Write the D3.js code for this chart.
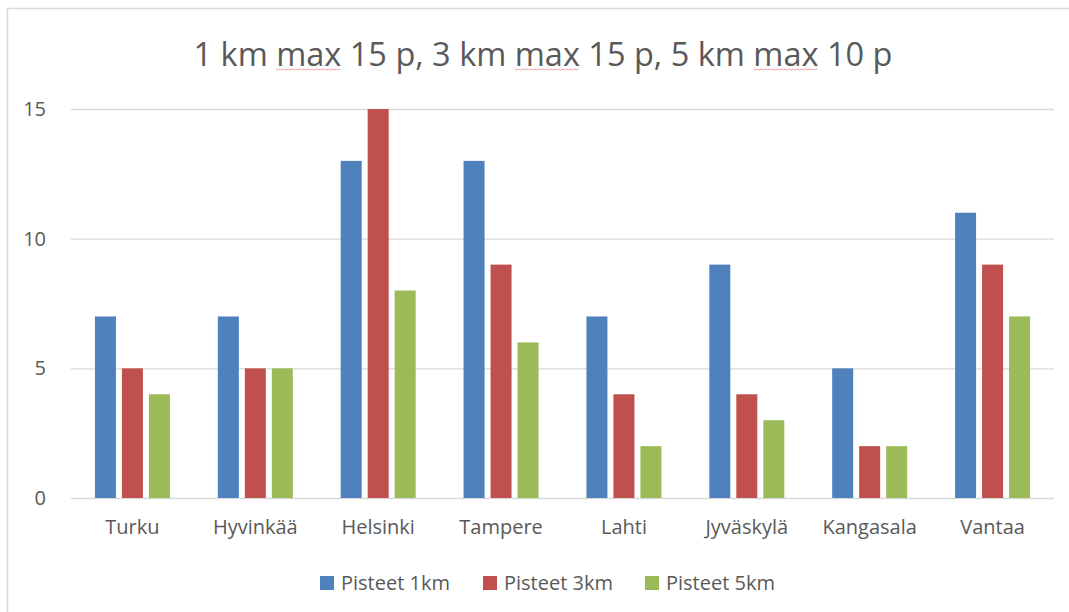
<!DOCTYPE html>
<html lang="fi">
<head>
  <meta charset="UTF-8">
  <title>Pisteet</title>
  <style>
    body { margin: 0; background: #fff; }
    svg { display: block; }
    text { font-family: "Open Sans", "Noto Sans", sans-serif; fill: #595959; }
  </style>
</head>
<body>
  <script src="https://d3js.org/d3.v7.min.js"></script>
  <script>
    'use strict';

    const cities = ['Turku', 'Hyvinkää', 'Helsinki', 'Tampere', 'Lahti', 'Jyväskylä', 'Kangasala', 'Vantaa'];
    const series = ['Pisteet 1km', 'Pisteet 3km', 'Pisteet 5km'];
    const p1km = [7, 7, 13, 13, 7, 9, 5, 11];
    const p3km = [5, 5, 15, 9, 4, 4, 2, 9];
    const p5km = [4, 5, 8, 6, 2, 3, 2, 7];
    const yTicks = [0, 5, 10, 15];
    const titleText = '1 km max 15 p, 3 km max 15 p, 5 km max 10 p';

    const colors = ['#4F81BD', '#C0504D', '#9BBB59'];
    const values = [p1km, p3km, p5km];

    const width = 1069;
    const height = 612;
    const plotLeft = 71, plotRight = 1054, plotTop = 109, plotBottom = 498;
    const labelSize = 20;

    const svg = d3.select('body').append('svg')
      .attr('width', width)
      .attr('height', height);

    // chart frame
    svg.append('path')
      .attr('d', 'M7.5,612 V8.5 H1069')
      .attr('fill', 'none')
      .attr('stroke', '#d9d9d9')
      .attr('stroke-width', 1.5);

    const x = d3.scaleBand().domain(cities).range([plotLeft, plotRight]);
    const y = d3.scaleLinear().domain([0, 15]).range([plotBottom, plotTop]);
    const groupW = 75;
    const xs = d3.scaleBand().domain(series).range([0, groupW]).paddingInner(0.222);

    // gridlines
    svg.append('g')
      .selectAll('line')
      .data(yTicks)
      .join('line')
      .attr('x1', plotLeft).attr('x2', plotRight)
      .attr('y1', d => y(d) + 0.5).attr('y2', d => y(d) + 0.5)
      .attr('stroke', '#d9d9d9')
      .attr('stroke-width', 1.3);

    // y axis labels
    const yAxis = d3.axisLeft(y).tickValues(yTicks).tickSize(0).tickPadding(0);
    const yG = svg.append('g')
      .attr('transform', 'translate(' + 46 + ',0)')
      .call(yAxis);
    yG.select('.domain').remove();
    yG.selectAll('text')
      .attr('font-size', labelSize)
      .attr('font-family', '"Open Sans", sans-serif')
      .attr('fill', '#595959');

    // bars
    const groups = svg.append('g')
      .selectAll('g')
      .data(cities)
      .join('g')
      .attr('transform', d => 'translate(' + (x(d) + x.bandwidth() / 2 - groupW / 2) + ',0)');

    groups.selectAll('rect')
      .data((c, i) => series.map((s, k) => ({ s: s, k: k, v: values[k][i] })))
      .join('rect')
      .attr('x', d => xs(d.s))
      .attr('width', xs.bandwidth())
      .attr('y', d => y(d.v))
      .attr('height', d => y(0) - y(d.v))
      .attr('fill', d => colors[d.k]);

    // x axis labels
    const xAxis = d3.axisBottom(x).tickSize(0).tickPadding(0);
    const xG = svg.append('g')
      .attr('transform', 'translate(0,' + 520 + ')')
      .call(xAxis);
    xG.select('.domain').remove();
    xG.selectAll('text')
      .attr('font-size', labelSize)
      .attr('font-family', '"Open Sans", sans-serif')
      .attr('fill', '#595959');

    // title
    const title = svg.append('text')
      .attr('x', 543)
      .attr('y', 66)
      .attr('text-anchor', 'middle')
      .attr('font-size', 32.5)
      .text(titleText);

    // spell-check squiggles under "max"
    const node = title.node();
    let idx = titleText.indexOf('max');
    while (idx >= 0) {
      const sx = node.getStartPositionOfChar(idx).x;
      const ex = node.getEndPositionOfChar(idx + 2).x;
      const pts = [];
      for (let px = sx, j = 0; px <= ex; px += 2, j++) pts.push([px, 69 + (j % 2)]);
      svg.append('path')
        .attr('d', d3.line()(pts))
        .attr('fill', 'none')
        .attr('stroke', '#f4a0a0')
        .attr('stroke-width', 1);
      idx = titleText.indexOf('max', idx + 1);
    }

    // legend
    const legendX = [320, 483, 645];
    const legend = svg.append('g')
      .selectAll('g')
      .data(series)
      .join('g')
      .attr('transform', (d, i) => 'translate(' + legendX[i] + ',' + 576 + ')');
    legend.append('rect')
      .attr('width', 14).attr('height', 14)
      .attr('fill', (d, i) => colors[i]);
    legend.append('text')
      .attr('x', 21)
      .attr('y', 14)
      .attr('font-size', labelSize)
      .text(d => d);
  </script>
</body>
</html>
